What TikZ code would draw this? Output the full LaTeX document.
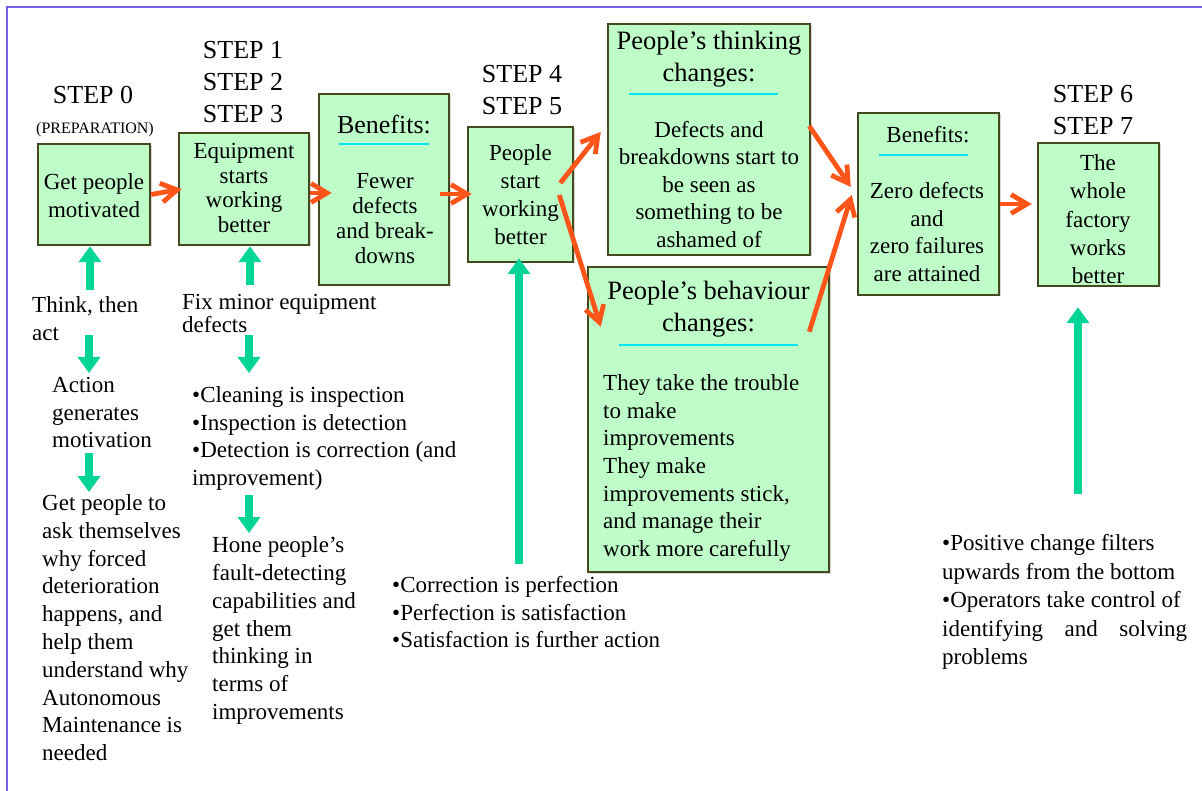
\documentclass[tikz,border=0pt]{standalone}
\usepackage{fontspec}
\setmainfont{Liberation Serif}
\usetikzlibrary{arrows.meta,calc,shadows}
\definecolor{boxfill}{RGB}{190,252,200}
\definecolor{boxline}{RGB}{70,72,30}
\definecolor{arrorange}{RGB}{255,85,25}
\definecolor{arrgreen}{RGB}{0,212,150}
\definecolor{framecol}{RGB}{118,96,228}
\definecolor{ulinecol}{RGB}{0,230,245}
\newcommand\st{\strut}
\newcommand\bodyf{\fontsize{23}{27.7}\selectfont}
\newcommand\headf{\fontsize{26.5}{32}\selectfont}
\newcommand\stepf{\fontsize{26}{32}\selectfont}
\newcommand\prepf{\fontsize{16}{19}\selectfont}
\begin{document}
\begin{tikzpicture}[x=1pt,y=-1pt,
  box/.style={draw=boxline, fill=boxfill, line width=2.5pt, inner sep=0pt,
    drop shadow={shadow xshift=1.5pt, shadow yshift=-1.5pt, opacity=0.3}},
  txt/.style={inner sep=0pt, text=black, font=\bodyf},
  ctxt/.style={txt, align=center},
  ltxt/.style={txt, align=left, anchor=west},
  oarr/.style={draw=arrorange, line width=4.8pt, -{Straight Barb[length=16pt,width=19pt]}},
  garr/.style={draw=arrgreen, line width=8pt, -{Triangle[length=16pt,width=22pt]}},
  uline/.style={draw=ulinecol, line width=2.2pt}]
\useasboundingbox (0,0) rectangle (1202,791);
\fill[white] (0,0) rectangle (1202,791);
\draw[framecol, line width=2pt] (7,791) -- (7,7) -- (1202,7);

% boxes
\node[box, minimum width=112, minimum height=101] (b1) at (94,194.5) {};
\node[box, minimum width=130, minimum height=112] (b2) at (244,189) {};
\node[box, minimum width=130, minimum height=191] (b3) at (384,189.5) {};
\node[box, minimum width=105, minimum height=135] (b4) at (520.5,194.5) {};
\node[box, minimum width=202, minimum height=231] (b5) at (709,139.5) {};
\node[box, minimum width=241, minimum height=305] (b6) at (708.5,419.5) {};
\node[box, minimum width=141, minimum height=182] (b7) at (928.5,204) {};
\node[box, minimum width=121, minimum height=143] (b8) at (1098.5,214.5) {};

% step labels
\node[ctxt, font=\stepf] (s0) at (93,97) {\st STEP 0\st};
\node[ctxt, font=\prepf] (prep) at (95,130) {\st(PREPARATION)\st};
\node[ctxt, font=\stepf] (s13) at (243,84) {\st STEP 1\\STEP 2\\STEP 3\st};
\node[ctxt, font=\stepf] (s45) at (522,92) {\st STEP 4\\STEP 5\st};
\node[ctxt, font=\stepf] (s67) at (1093,112) {\st STEP 6\\STEP 7\st};

% box texts
\node[ctxt, font=\fontsize{23}{28}\selectfont] (t1) at (94,197.5) {\st Get people\\motivated\st};
\node[ctxt, font=\fontsize{23}{24.7}\selectfont] (t2) at (244,190.5) {\st Equipment\\starts\\working\\better\st};
\node[ctxt, font=\fontsize{26}{30}\selectfont] (h3) at (384,128) {\st Benefits:\st};
\node[ctxt, font=\fontsize{23}{25}\selectfont] (t3) at (385,221.5) {\st Fewer\\defects\\and break-\\downs\st};
\node[ctxt, font=\fontsize{23}{28}\selectfont] (t4) at (520.5,197) {\st People\\start\\working\\better\st};
\node[ctxt, font=\headf] (h5) at (709,59) {\st People’s thinking\\changes:\st};
\node[ctxt, font=\fontsize{23}{27.5}\selectfont] (t5) at (709,187) {\st Defects and\\breakdowns start to\\be seen as\\something to be\\ashamed of\st};
\node[ctxt, font=\headf] (h6) at (708.5,309) {\st People’s behaviour\\changes:\st};
\node[ltxt] (t6) at (603,468) {\st They take the trouble\\to make\\improvements\\They make\\improvements stick,\\and manage their\\work more carefully\st};
\node[ctxt, font=\fontsize{23}{28}\selectfont] (h7) at (928,137) {\st Benefits:\st};
\node[ctxt] (t7) at (927,234.5) {\st Zero defects\\and\\zero failures\\are attained\st};
\node[ctxt, font=\fontsize{23}{28.2}\selectfont] (t8) at (1098,221.5) {\st The\\whole\\factory\\works\\better\st};

% underlines
\draw[uline] (339,144) -- (429,144);
\draw[uline] (629,94) -- (778,94);
\draw[uline] (619,345) -- (798,345);
\draw[uline] (879,155) -- (968,155);

% free texts
\node[ltxt, font=\fontsize{23}{28}\selectfont] (think) at (32,321) {\st Think, then\\act\st};
\node[ltxt, font=\fontsize{23}{27.5}\selectfont] (action) at (52,414.5) {\st Action\\generates\\motivation\st};
\node[ltxt, font=\fontsize{23}{27.8}\selectfont] (getp) at (42,630) {\st Get people to\\ask themselves\\why forced\\deterioration\\happens, and\\help them\\understand why\\Autonomous\\Maintenance is\\needed\st};
\node[ltxt, font=\fontsize{23}{23.5}\selectfont] (fix) at (182,316.5) {\st Fix minor equipment\\defects\st};
\node[ltxt] (bul1) at (192,438.5) {\st •Cleaning is inspection\\•Inspection is detection\\•Detection is correction (and\\improvement)\st};
\node[ltxt, font=\fontsize{23}{27.8}\selectfont] (hone) at (212,630.5) {\st Hone people’s\\fault-detecting\\capabilities and\\get them\\thinking in\\terms of\\improvements\st};
\node[ltxt, font=\fontsize{23}{27.5}\selectfont] (bul2) at (392,614.5) {\st •Correction is perfection\\•Perfection is satisfaction\\•Satisfaction is further action\st};
\node[ltxt, font=\fontsize{23}{28.5}\selectfont] (bul3) at (942,602) {\st •Positive change filters\\upwards from the bottom\\•Operators take control of\\\hbox to 245pt{identifying\hfill and\hfill solving}\\problems\st};

% orange arrows
\draw[oarr] (b1.east) -- ($(b2.west)+(4,0)$);
\draw[oarr] ($(b2.east)+(0,4)$) -- ($(b3.west)+(14,3.5)$);
\draw[oarr] ($(b3.east)+(-10,4.5)$) -- ($(b4.west)+(5,-0.5)$);
\draw[oarr] ($(b4.east)+(-14,-11.5)$) -- ($(b5.west)+(-6,-7.5)$);
\draw[oarr] ($(b4.east)+(-15,0.5)$) -- ($(b6.north west)+(14,61)$);
\draw[oarr] ($(b5.east)+(-2,-13.5)$) -- ($(b7.west)+(-6,-17)$);
\draw[oarr] ($(b6.north east)+(-21,66)$) -- ($(b7.west)+(-5,-9)$);
\draw[oarr] (b7.east) -- ($(b8.west)+(-5,-10.5)$);

% green arrows
\coordinate (g1s) at (90,290);
\coordinate (g2s) at (250,285);
\coordinate (g3s) at (519,564);
\coordinate (g4s) at (1078,494);
\draw[garr] (g1s) -- (b1.south -| g1s);
\draw[garr] (g2s) -- (b2.south -| g2s);
\draw[garr] (g3s) -- ($(b4.south -| g3s)+(0,-5)$);
\draw[garr] (g4s) -- ($(b8.south -| g4s)+(0,20)$);
\coordinate (d1s) at (89,335); \coordinate (d1e) at (89,373);
\coordinate (d2s) at (89,453); \coordinate (d2e) at (89,492);
\coordinate (d3s) at (249,335); \coordinate (d3e) at (249,373);
\coordinate (d4s) at (249,495); \coordinate (d4e) at (249,533);
\draw[garr] (d1s) -- (d1e);
\draw[garr] (d2s) -- (d2e);
\draw[garr] (d3s) -- (d3e);
\draw[garr] (d4s) -- (d4e);
\end{tikzpicture}
\end{document}
